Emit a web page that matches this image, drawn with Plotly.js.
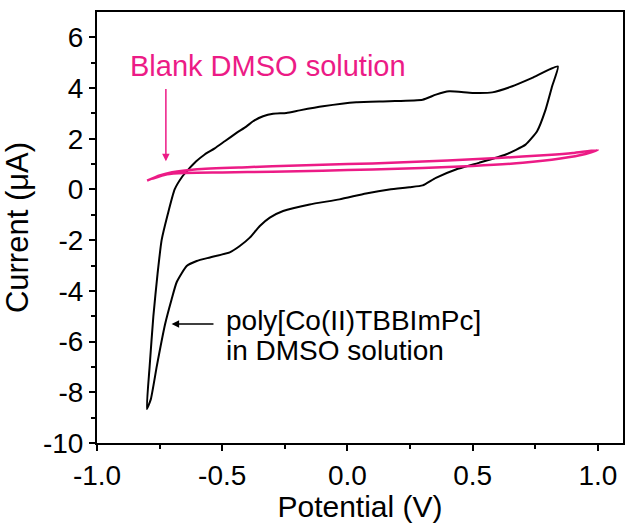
<!DOCTYPE html>
<html>
<head>
<meta charset="utf-8">
<script src="https://cdn.plot.ly/plotly-3.0.1.min.js"></script>
<style>html,body{margin:0;padding:0;background:#fff;}</style>
</head>
<body>
<div id="chart" style="width:626px;height:523px;"></div>
<script>
// Co-polymer CV (black): one closed sweep starting at the cathodic tip
const polyPotential = [-0.801, -0.790, -0.775, -0.758, -0.742, -0.718, -0.690, -0.660, -0.635, -0.605, -0.570, -0.530, -0.490, -0.443, -0.403, -0.377, -0.337, -0.297, -0.244, -0.191, -0.098, 0.035, 0.167, 0.300, 0.353, 0.406, 0.499, 0.578, 0.658, 0.737, 0.840,
  0.817, 0.791, 0.757, 0.711, 0.632, 0.525, 0.433, 0.353, 0.300, 0.247, 0.167, 0.074, -0.032, -0.151, -0.257, -0.310, -0.350, -0.390, -0.430, -0.470, -0.549, -0.602, -0.642, -0.682, -0.702, -0.728, -0.761, -0.785, -0.801];
const polyCurrent = [-8.66, -7.00, -5.00, -3.30, -2.00, -1.00, 0.00, 0.50, 0.79, 1.10, 1.38, 1.62, 1.90, 2.23, 2.49, 2.69, 2.89, 2.99, 3.02, 3.12, 3.28, 3.44, 3.48, 3.54, 3.74, 3.87, 3.81, 3.83, 4.07, 4.40, 4.85,
  4.07, 3.15, 2.30, 1.77, 1.38, 1.05, 0.79, 0.46, 0.16, 0.09, 0.00, -0.16, -0.39, -0.59, -0.85, -1.11, -1.44, -1.90, -2.23, -2.48, -2.68, -2.82, -3.02, -3.66, -4.33, -5.31, -6.96, -8.27, -8.66];

// Blank DMSO CV (pink)
const blankPotential = [-0.80, -0.75, -0.70, -0.60, -0.40, -0.20, 0.00, 0.20, 0.40, 0.60, 0.80, 0.90, 1.00,
  0.95, 0.85, 0.70, 0.50, 0.30, 0.10, -0.10, -0.30, -0.50, -0.65, -0.72, -0.78];
const blankCurrent = [0.35, 0.55, 0.68, 0.80, 0.88, 0.95, 1.00, 1.06, 1.14, 1.24, 1.36, 1.44, 1.56,
  1.40, 1.22, 1.05, 0.93, 0.85, 0.79, 0.74, 0.70, 0.67, 0.65, 0.60, 0.42];

const xTickVals = [-1.0, -0.5, 0.0, 0.5, 1.0];
const xTickText = ['-1.0', '-0.5', '0.0', '0.5', '1.0'];
const yTickVals = [-10, -8, -6, -4, -2, 0, 2, 4, 6];
const yTickText = ['-10', '-8', '-6', '-4', '-2', '0', '2', '4', '6'];

const FONT = 'Liberation Sans, Arial, Helvetica, sans-serif';
const PINK = '#EC1B86';

const traces = [
  {x: polyPotential, y: polyCurrent, mode: 'lines', type: 'scatter',
   line: {color: '#000000', width: 2, shape: 'spline', smoothing: 0.5}, hoverinfo: 'skip'},
  {x: blankPotential, y: blankCurrent, mode: 'lines', type: 'scatter',
   line: {color: PINK, width: 2.5, shape: 'spline', smoothing: 0.5}, hoverinfo: 'skip'}
];

const axisCommon = {
  showline: true, linecolor: '#000', linewidth: 2, mirror: true,
  ticks: 'outside', ticklen: 6, tickwidth: 2, tickcolor: '#000',
  showgrid: false, zeroline: false,
  tickfont: {family: FONT, size: 28, color: '#000'},
  tickmode: 'array'
};

const layout = {
  width: 626, height: 523,
  margin: {l: 97, r: 3, t: 12, b: 80},
  paper_bgcolor: '#fff', plot_bgcolor: '#fff',
  showlegend: false,
  xaxis: Object.assign({}, axisCommon, {
    range: [-1.0, 1.1], tickvals: xTickVals, ticktext: xTickText,
    minor: {tickvals: [-0.75, -0.25, 0.25, 0.75], ticks: 'outside', ticklen: 4, tickwidth: 2, tickcolor: '#000'},
    title: {text: 'Potential (V)', font: {family: FONT, size: 30, color: '#000'}, standoff: 9}
  }),
  yaxis: Object.assign({}, axisCommon, {
    range: [-10, 7], tickvals: yTickVals, ticktext: yTickText,
    minor: {tickvals: [-9, -7, -5, -3, -1, 1, 3, 5], ticks: 'outside', ticklen: 4, tickwidth: 2, tickcolor: '#000'},
    title: {text: 'Current (\u03bcA)', font: {family: FONT, size: 31, color: '#000'}, standoff: 8}
  }),
  annotations: [
    {x: -0.878, y: 4.86, xref: 'x', yref: 'y', text: 'Blank DMSO solution', showarrow: false,
     xanchor: 'left', yanchor: 'middle', font: {family: FONT, size: 29, color: PINK}},
    {x: -0.725, y: 1.11, ax: -0.725, ay: 4.02, xref: 'x', yref: 'y', axref: 'x', ayref: 'y',
     text: '', showarrow: true, arrowhead: 2, arrowsize: 1, arrowwidth: 1.5, arrowcolor: PINK},
    {x: -0.702, y: -5.31, ax: -0.529, ay: -5.31, xref: 'x', yref: 'y', axref: 'x', ayref: 'y',
     text: '', showarrow: true, arrowhead: 2, arrowsize: 1, arrowwidth: 1.5, arrowcolor: '#000'},
    {x: -0.492, y: -5.17, xref: 'x', yref: 'y', text: 'poly[Co(II)TBBImPc]', showarrow: false,
     xanchor: 'left', yanchor: 'middle', font: {family: FONT, size: 28, color: '#000'}},
    {x: -0.492, y: -6.37, xref: 'x', yref: 'y', text: 'in DMSO solution', showarrow: false,
     xanchor: 'left', yanchor: 'middle', font: {family: FONT, size: 28, color: '#000'}}
  ]
};

Plotly.newPlot('chart', traces, layout, {staticPlot: true, displayModeBar: false});
</script>
</body>
</html>
